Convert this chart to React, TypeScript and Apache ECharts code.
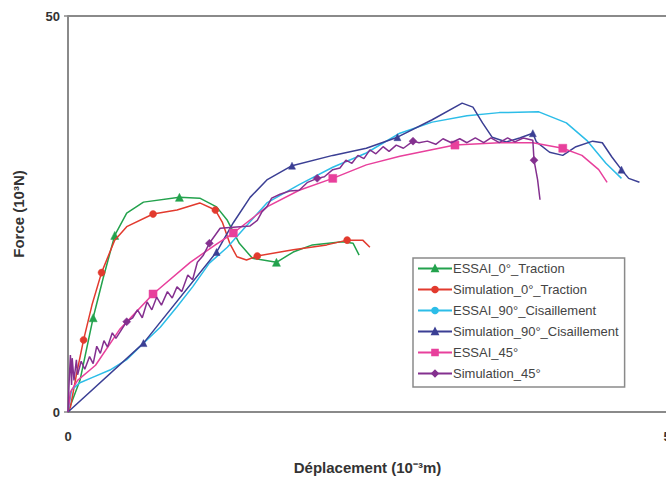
import React, { useEffect, useRef } from "react";
import * as echarts from "echarts";

const seriesNames = [
  "ESSAI_0°_Traction",
  "Simulation_0°_Traction",
  "ESSAI_90°_Cisaillement",
  "Simulation_90°_Cisaillement",
  "ESSAI_45°",
  "Simulation_45°",
];

const xTicks = [0, 5];
const yTicks = [0, 50];

const essai0: number[][] = [
  [0, 0], [0.1, 4.0], [0.21, 11.9], [0.29, 16.7], [0.39, 22.3], [0.49, 25.1],
  [0.63, 26.5], [0.93, 27.1], [1.1, 27.0], [1.24, 25.9], [1.33, 24.2], [1.43, 21.3],
  [1.54, 19.4], [1.74, 18.9], [1.88, 20.2], [2.04, 21.1], [2.29, 21.5], [2.38, 21.3],
  [2.43, 19.8],
];
const essai0Markers = [2, 4, 7, 13];

const sim0: number[][] = [
  [0, 0], [0.02, 0.6], [0.07, 4.7], [0.13, 9.1], [0.2, 13.5], [0.28, 17.6],
  [0.39, 21.7], [0.49, 23.4], [0.71, 25.0], [0.91, 25.5], [1.1, 26.4], [1.23, 25.5],
  [1.29, 23.9], [1.35, 21.3], [1.41, 19.6], [1.49, 19.2], [1.58, 19.7], [1.88, 20.5],
  [2.16, 21.1], [2.33, 21.7], [2.46, 21.7], [2.52, 20.8],
];
const sim0Markers = [3, 5, 8, 11, 16, 19];

const essai90: number[][] = [
  [0, 0], [0.03, 2.8], [0.1, 3.7], [0.21, 4.4], [0.35, 5.3], [0.49, 6.6],
  [0.63, 8.7], [0.77, 10.7], [0.91, 13.3], [1.04, 15.8], [1.18, 18.8], [1.33, 20.8],
  [1.46, 23.0], [1.66, 26.4], [1.93, 28.7], [2.21, 30.9], [2.49, 32.7], [2.77, 35.2],
  [3.04, 36.6], [3.33, 37.4], [3.6, 37.8], [3.93, 37.9], [4.16, 36.5], [4.33, 34.3],
  [4.49, 31.4], [4.62, 29.5],
];
const essai90Markers: number[] = [];

const sim90: number[][] = [
  [0, 0], [0.63, 8.7], [1.24, 20.2], [1.38, 23.9], [1.52, 27.1], [1.66, 29.3],
  [1.87, 31.1], [2.21, 32.4], [2.49, 33.3], [2.75, 34.7], [3.04, 36.9], [3.29, 39.0],
  [3.38, 38.5], [3.46, 36.5], [3.54, 34.7], [3.66, 34.1], [3.77, 34.6], [3.88, 35.2],
  [3.91, 34.1], [4.02, 32.8], [4.13, 32.4], [4.24, 33.5], [4.38, 34.2], [4.46, 34.0],
  [4.54, 32.2], [4.62, 30.6], [4.68, 29.5], [4.77, 29.0],
];
const sim90Markers = [1, 2, 6, 9, 17, 25];

const essai45: number[][] = [
  [0, 0], [0.02, 2.5], [0.08, 4.0], [0.23, 5.9], [0.43, 10.4], [0.71, 14.9],
  [1.02, 18.9], [1.23, 21.1], [1.38, 22.6], [1.66, 25.9], [1.93, 28.0], [2.21, 29.5],
  [2.49, 31.2], [2.77, 32.3], [3.23, 33.7], [3.6, 34.0], [3.88, 34.0], [4.13, 33.3],
  [4.29, 32.4], [4.43, 30.6], [4.5, 29.0],
];
const essai45Markers = [5, 8, 11, 14, 17];

const sim45: number[][] = [
  [0, 0], [0.01, 4.0], [0.02, 7.2], [0.03, 3.4], [0.035, 6.8], [0.05, 4.0],
  [0.07, 6.6], [0.08, 4.7], [0.11, 6.4], [0.14, 5.4], [0.18, 7.0], [0.21, 6.1],
  [0.24, 8.3], [0.27, 7.4], [0.3, 9.0], [0.33, 8.2], [0.37, 10.0], [0.4, 9.3],
  [0.49, 11.4], [0.54, 11.9], [0.58, 12.9], [0.62, 11.9], [0.66, 13.9], [0.7, 12.9],
  [0.74, 14.5], [0.78, 13.5], [0.83, 15.2], [0.87, 14.4], [0.91, 15.8], [0.95, 15.2],
  [1.0, 17.3], [1.04, 16.7], [1.08, 18.9], [1.13, 19.8], [1.18, 21.3], [1.27, 23.2],
  [1.52, 23.5], [1.58, 24.2], [1.62, 25.3], [1.66, 25.9], [1.7, 27.0], [1.77, 27.5],
  [1.85, 27.9], [1.93, 28.0], [2.0, 29.0], [2.08, 29.5], [2.14, 29.7], [2.21, 30.6],
  [2.27, 30.8], [2.32, 31.8], [2.37, 31.4], [2.42, 32.4], [2.47, 32.0], [2.52, 33.1],
  [2.57, 32.6], [2.63, 33.5], [2.68, 32.9], [2.74, 33.7], [2.8, 33.3], [2.88, 34.2],
  [2.93, 34.0], [3.0, 34.2], [3.07, 33.8], [3.13, 34.5], [3.2, 34.0], [3.27, 34.5],
  [3.33, 34.0], [3.4, 34.6], [3.47, 34.0], [3.53, 34.6], [3.6, 34.0], [3.67, 34.6],
  [3.73, 34.1], [3.8, 34.6], [3.88, 34.3], [3.89, 31.8], [3.92, 29.3], [3.94, 26.8],
];
const sim45Markers = [18, 34, 45, 59, 75];

const colors = ["#23a24d", "#e23a2e", "#2cbde8", "#3b3f94", "#e8409c", "#84308f"];
const symbols = ["triangle", "circle", "none", "triangle", "rect", "diamond"];
const symbolSizes = [8, 7, 0, 7, 8, 8];

const allPoints = [essai0, sim0, essai90, sim90, essai45, sim45];
const allMarkers = [essai0Markers, sim0Markers, essai90Markers, sim90Markers, essai45Markers, sim45Markers];

export default function App() {
  const ref = useRef<HTMLDivElement>(null);
  useEffect(() => {
    if (!ref.current) return;
    const chart = echarts.init(ref.current, null, { renderer: "svg" });
    const series = allPoints.map((pts, si) => ({
      name: seriesNames[si],
      type: "line",
      symbol: symbols[si],
      symbolSize: symbolSizes[si],
      showAllSymbol: true,
      lineStyle: { color: colors[si], width: 1.5 },
      itemStyle: { color: colors[si], borderColor: colors[si], borderWidth: 0.5 },
      z: 2 + si,
      data: pts.map((p, i) =>
        allMarkers[si].includes(i) ? { value: p } : { value: p, symbol: "none" }
      ),
    }));
    chart.setOption({
      animation: false,
      backgroundColor: "#ffffff",
      textStyle: { fontFamily: "Liberation Sans, Arial, sans-serif" },
      grid: {
        left: 68,
        top: 16,
        width: 599,
        height: 396,
        containLabel: false,
        outerBoundsMode: "none",
      },
      xAxis: {
        type: "value",
        min: xTicks[0],
        max: xTicks[xTicks.length - 1],
        interval: 5,
        name: "Déplacement (10⁻³m)",
        nameLocation: "middle",
        nameGap: 48,
        nameTextStyle: { fontSize: 15, fontWeight: "bold", color: "#333" },
        axisLine: { show: true, lineStyle: { color: "#8a8a8a", width: 2 } },
        axisTick: { show: false },
        axisLabel: { fontSize: 13, fontWeight: "bold", color: "#333", margin: 18 },
        splitLine: { show: false },
      },
      yAxis: {
        type: "value",
        min: yTicks[0],
        max: yTicks[yTicks.length - 1],
        interval: 50,
        name: "Force (10³N)",
        nameLocation: "middle",
        nameGap: 42,
        nameTextStyle: { fontSize: 15, fontWeight: "bold", color: "#333" },
        axisLine: { show: true, lineStyle: { color: "#8a8a8a", width: 2 } },
        axisTick: { show: true, length: 4, lineStyle: { color: "#8a8a8a", width: 1.5 } },
        axisLabel: { fontSize: 13, fontWeight: "bold", color: "#333", margin: 8 },
        splitLine: { show: true, lineStyle: { color: "#8a8a8a", width: 2 } },
      },
      legend: {
        orient: "vertical",
        left: 413,
        top: 258,
        itemWidth: 34,
        itemHeight: 7,
        itemGap: 8,
        padding: [4, 6, 7, 4],
        borderColor: "#8a8a8a",
        borderWidth: 1.5,
        backgroundColor: "#fff",
        textStyle: { fontSize: 13, color: "#444", padding: [0, 0, 0, -4] },
        data: seriesNames,
      },
      series,
    });
    return () => chart.dispose();
  }, []);
  return (
    <div
      ref={ref}
      style={{ position: "fixed", left: 0, top: 0, width: 666, height: 480 }}
    />
  );
}
